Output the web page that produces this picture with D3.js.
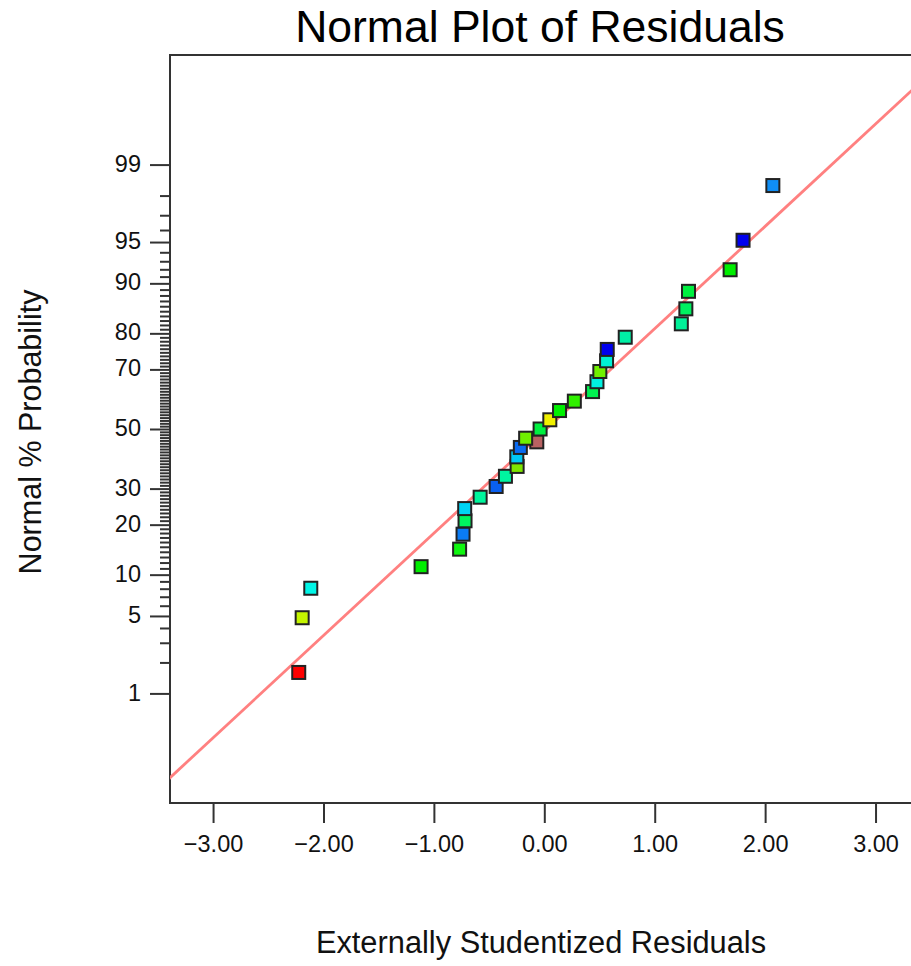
<!DOCTYPE html>
<html>
<head>
<meta charset="utf-8">
<script src="https://cdn.jsdelivr.net/npm/d3@7"></script>
<style>
  html, body { margin: 0; padding: 0; background: #fff; }
  svg { display: block; font-family: "Liberation Sans", Arial, sans-serif; }
</style>
</head>
<body>
<svg id="chart" width="911" height="966"></svg>
<script>
// ---- data ----
const residuals = [
  -0.068, -2.224, -2.193, -2.115, -1.116, -0.767, -0.736, -0.718, -0.721, -0.581,
  -0.436, -0.352, -0.246, -0.249, -0.217, -0.169, -0.038, 0.050, 0.138, 0.272,
  0.437, 0.477, 0.503, 0.564, 0.570, 0.733, 1.241, 1.282, 1.306, 1.683,
  1.800, 2.070
];
const probabilities = [
  45.5, 1.61, 4.84, 8.06, 11.29, 14.52, 17.74, 20.97, 24.19, 27.42,
  30.65, 33.87, 37.10, 40.32, 43.55, 46.77, 50.00, 53.23, 56.45, 59.68,
  62.90, 66.13, 69.35, 72.58, 75.81, 79.03, 82.26, 85.48, 88.71, 91.94,
  95.16, 98.39
];
const pointColors = [
  "#b86262", "#ff0000", "#c4f500", "#00f5e6", "#00ee00", "#10f510", "#0a7cf5", "#00f560", "#00d4f5", "#00f59c",
  "#0a60f0", "#00f5a0", "#7ee600", "#00c8f5", "#0a6af0", "#70f000", "#00f040", "#f0f000", "#00f000", "#30f000",
  "#00f050", "#00f0e0", "#70f000", "#00f0d4", "#0000ee", "#00f0a6", "#00f098", "#00f060", "#00f040", "#00ee00",
  "#0000ee", "#0f8ef5"
];
const fitResiduals = [-3.4, 3.4];
const fitProbabilities = [0.1045, 99.883];

const xTicks = [-3, -2, -1, 0, 1, 2, 3];
const yMajorTicks = [1, 5, 10, 20, 30, 50, 70, 80, 90, 95, 99];
const yMinorTicks = d3.range(1, 100).filter(v => !yMajorTicks.includes(v));

const titleText = "Normal Plot of Residuals";
const xTitle = "Externally Studentized Residuals";
const yTitle = "Normal % Probability";

// ---- probit (inverse normal CDF, Acklam) ----
function probit(p) {
  const a = [-3.969683028665376e+01, 2.209460984245205e+02, -2.759285104469687e+02, 1.383577518672690e+02, -3.066479806614716e+01, 2.506628277459239e+00];
  const b = [-5.447609879822406e+01, 1.615858368580409e+02, -1.556989798598866e+02, 6.680131188771972e+01, -1.328068155288572e+01];
  const c = [-7.784894002430293e-03, -3.223964580411365e-01, -2.400758277161838e+00, -2.549732539343734e+00, 4.374664141464968e+00, 2.938163982698783e+00];
  const d = [7.784695709041462e-03, 3.224671290700398e-01, 2.445134137142996e+00, 3.754408661907416e+00];
  const pl = 0.02425, ph = 1 - pl;
  let q, r;
  if (p < pl) {
    q = Math.sqrt(-2 * Math.log(p));
    return (((((c[0]*q+c[1])*q+c[2])*q+c[3])*q+c[4])*q+c[5]) / ((((d[0]*q+d[1])*q+d[2])*q+d[3])*q+1);
  } else if (p <= ph) {
    q = p - 0.5; r = q*q;
    return (((((a[0]*r+a[1])*r+a[2])*r+a[3])*r+a[4])*r+a[5])*q / (((((b[0]*r+b[1])*r+b[2])*r+b[3])*r+b[4])*r+1);
  } else {
    q = Math.sqrt(-2 * Math.log(1 - p));
    return -(((((c[0]*q+c[1])*q+c[2])*q+c[3])*q+c[4])*q+c[5]) / ((((d[0]*q+d[1])*q+d[2])*q+d[3])*q+1);
  }
}

// ---- layout ----
const plot = { left: 170, top: 55, right: 918.6, bottom: 803 };
const svg = d3.select("#chart");

const x = d3.scaleLinear().domain([-3.39, 3.39]).range([plot.left, plot.right]);
const yz = d3.scaleLinear().domain([probit(0.0005), probit(0.9995)]).range([plot.bottom, plot.top]);
const y = pct => yz(probit(pct / 100));

// title
svg.append("text")
  .attr("x", 540).attr("y", 42)
  .attr("text-anchor", "middle")
  .attr("font-size", 44.5)
  .attr("fill", "#000")
  .text(titleText);

// clip
svg.append("clipPath").attr("id", "plotClip")
  .append("rect")
  .attr("x", plot.left).attr("y", plot.top)
  .attr("width", plot.right - plot.left).attr("height", plot.bottom - plot.top);

// x axis
const xAxis = d3.axisBottom(x).tickValues(xTicks).tickFormat(d3.format(".2f"))
  .tickSize(20).tickSizeOuter(0).tickPadding(12);
const gx = svg.append("g").attr("transform", `translate(0,${plot.bottom})`).call(xAxis);
gx.select(".domain").remove();
gx.selectAll("line").attr("stroke", "#333").attr("stroke-width", 2);
gx.selectAll("text").attr("font-size", 23.5).attr("fill", "#111")
  .attr("font-family", "Liberation Sans, Arial, sans-serif");

// y axis: minor ticks
const yMinorAxis = d3.axisLeft(yz).tickValues(yMinorTicks.map(v => probit(v / 100)))
  .tickFormat("").tickSize(10).tickSizeOuter(0);
const gyMinor = svg.append("g").attr("transform", `translate(${plot.left},0)`).call(yMinorAxis);
gyMinor.select(".domain").remove();
gyMinor.selectAll("line").attr("stroke", "#333").attr("stroke-width", 2);

// y axis: major ticks
const yAxis = d3.axisLeft(yz).tickValues(yMajorTicks.map(v => probit(v / 100)))
  .tickFormat((d, i) => String(yMajorTicks[i])).tickSize(20).tickSizeOuter(0).tickPadding(9);
const gy = svg.append("g").attr("transform", `translate(${plot.left},0)`).call(yAxis);
gy.select(".domain").remove();
gy.selectAll("line").attr("stroke", "#333").attr("stroke-width", 2);
gy.selectAll("text").attr("font-size", 23.5).attr("fill", "#111").attr("dy", "0.28em")
  .attr("font-family", "Liberation Sans, Arial, sans-serif");

// frame
svg.append("rect")
  .attr("x", plot.left).attr("y", plot.top)
  .attr("width", plot.right - plot.left).attr("height", plot.bottom - plot.top)
  .attr("fill", "none").attr("stroke", "#333").attr("stroke-width", 2);

// fit line
const fitData = fitResiduals.map((r, i) => ({ r, p: fitProbabilities[i] }));
svg.append("path")
  .datum(fitData)
  .attr("clip-path", "url(#plotClip)")
  .attr("fill", "none")
  .attr("stroke", "#ff8080")
  .attr("stroke-width", 2.8)
  .attr("d", d3.line().x(d => x(d.r)).y(d => y(d.p)));

// points
const pts = residuals.map((r, i) => ({ r, p: probabilities[i], c: pointColors[i] }));
const s = 13;
svg.append("g").selectAll("rect")
  .data(pts)
  .join("rect")
  .attr("x", d => x(d.r) - s / 2)
  .attr("y", d => y(d.p) - s / 2)
  .attr("width", s).attr("height", s)
  .attr("fill", d => d.c)
  .attr("stroke", "#222")
  .attr("stroke-width", 2);

// axis titles
svg.append("text")
  .attr("x", 541).attr("y", 953)
  .attr("text-anchor", "middle")
  .attr("font-size", 30.8)
  .attr("fill", "#111")
  .text(xTitle);

svg.append("text")
  .attr("transform", `translate(41,${432}) rotate(-90)`)
  .attr("text-anchor", "middle")
  .attr("font-size", 30.5)
  .attr("fill", "#111")
  .text(yTitle);
</script>
</body>
</html>
